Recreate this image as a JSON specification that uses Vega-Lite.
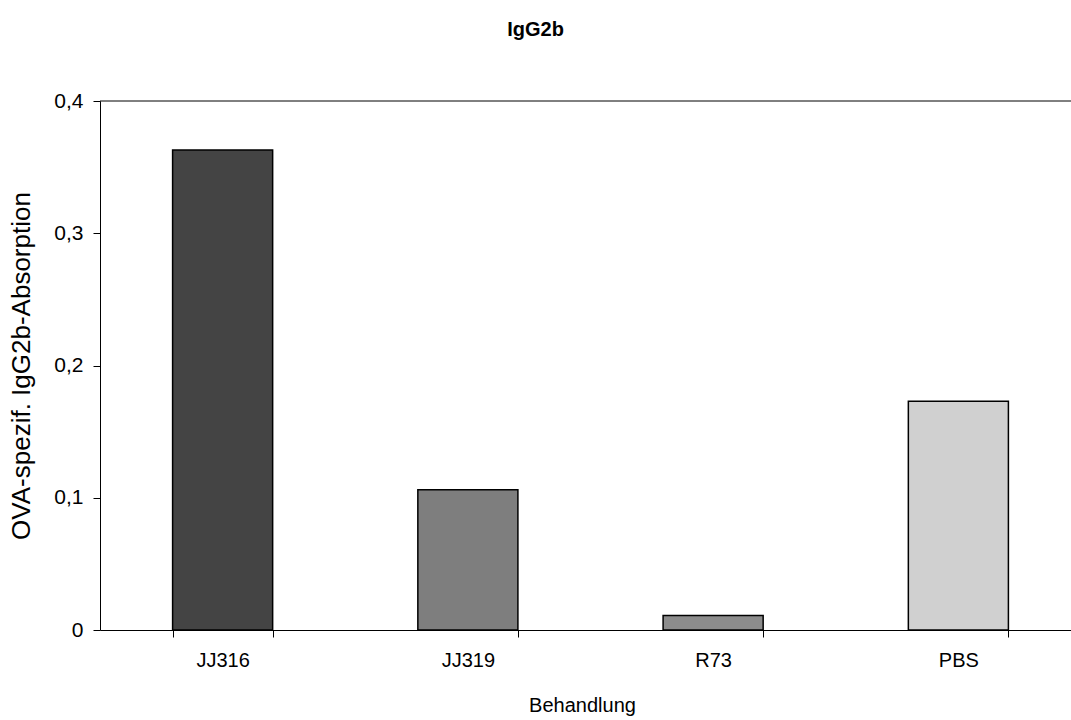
{
  "$schema": "https://vega.github.io/schema/vega-lite/v6.json",
  "width": 981,
  "height": 529,
  "autosize": {"type": "none"},
  "padding": {"left": 100, "top": 101, "right": 0, "bottom": 90},
  "background": "white",
  "title": {
    "text": "IgG2b",
    "font": "Liberation Sans",
    "fontSize": 20,
    "fontWeight": "bold",
    "color": "black",
    "anchor": "middle",
    "dx": -55,
    "offset": 50
  },
  "config": {
    "view": {"stroke": null},
    "font": "Liberation Sans",
    "axis": {
      "domainColor": "black",
      "tickColor": "black",
      "labelColor": "black",
      "titleColor": "black",
      "labelFont": "Liberation Sans",
      "titleFont": "Liberation Sans",
      "titleFontWeight": "normal",
      "grid": false
    }
  },
  "data": {
    "values": [
      {"Behandlung": "JJ316", "Absorption": 0.363, "Fill": "#444444"},
      {"Behandlung": "JJ319", "Absorption": 0.106, "Fill": "#7e7e7e"},
      {"Behandlung": "R73", "Absorption": 0.011, "Fill": "#8c8c8c"},
      {"Behandlung": "PBS", "Absorption": 0.173, "Fill": "#d0d0d0"}
    ]
  },
  "layer": [
    {
      "mark": {"type": "bar", "stroke": "black", "strokeWidth": 1.5},
      "encoding": {
        "x": {
          "field": "Behandlung",
          "type": "nominal",
          "sort": null,
          "scale": {"paddingInner": 0.592, "paddingOuter": 0.296},
          "axis": {
            "title": "Behandlung",
            "labelAngle": 0,
            "labelFontSize": 20,
            "titleFontSize": 20,
            "titleX": 482,
            "tickBand": "extent",
            "tickSize": 7,
            "labelPadding": 13,
            "titlePadding": 25
          }
        },
        "y": {
          "field": "Absorption",
          "type": "quantitative",
          "scale": {"domain": [0, 0.4]},
          "axis": {
            "title": "OVA-spezif. IgG2b-Absorption",
            "values": [0, 0.1, 0.2, 0.3, 0.4],
            "labelExpr": "datum.value == 0 ? '0' : replace(format(datum.value, '.1f'), '.', ',')",
            "labelFontSize": 21,
            "titleFontSize": 26,
            "tickSize": 7,
            "labelPadding": 10,
            "titlePadding": 19
          }
        },
        "fill": {"field": "Fill", "type": "nominal", "scale": null}
      }
    },
    {
      "data": {"values": [{"top": 0.4}]},
      "mark": {"type": "rule", "color": "black", "strokeWidth": 1},
      "encoding": {"y": {"field": "top", "type": "quantitative"}}
    }
  ]
}
